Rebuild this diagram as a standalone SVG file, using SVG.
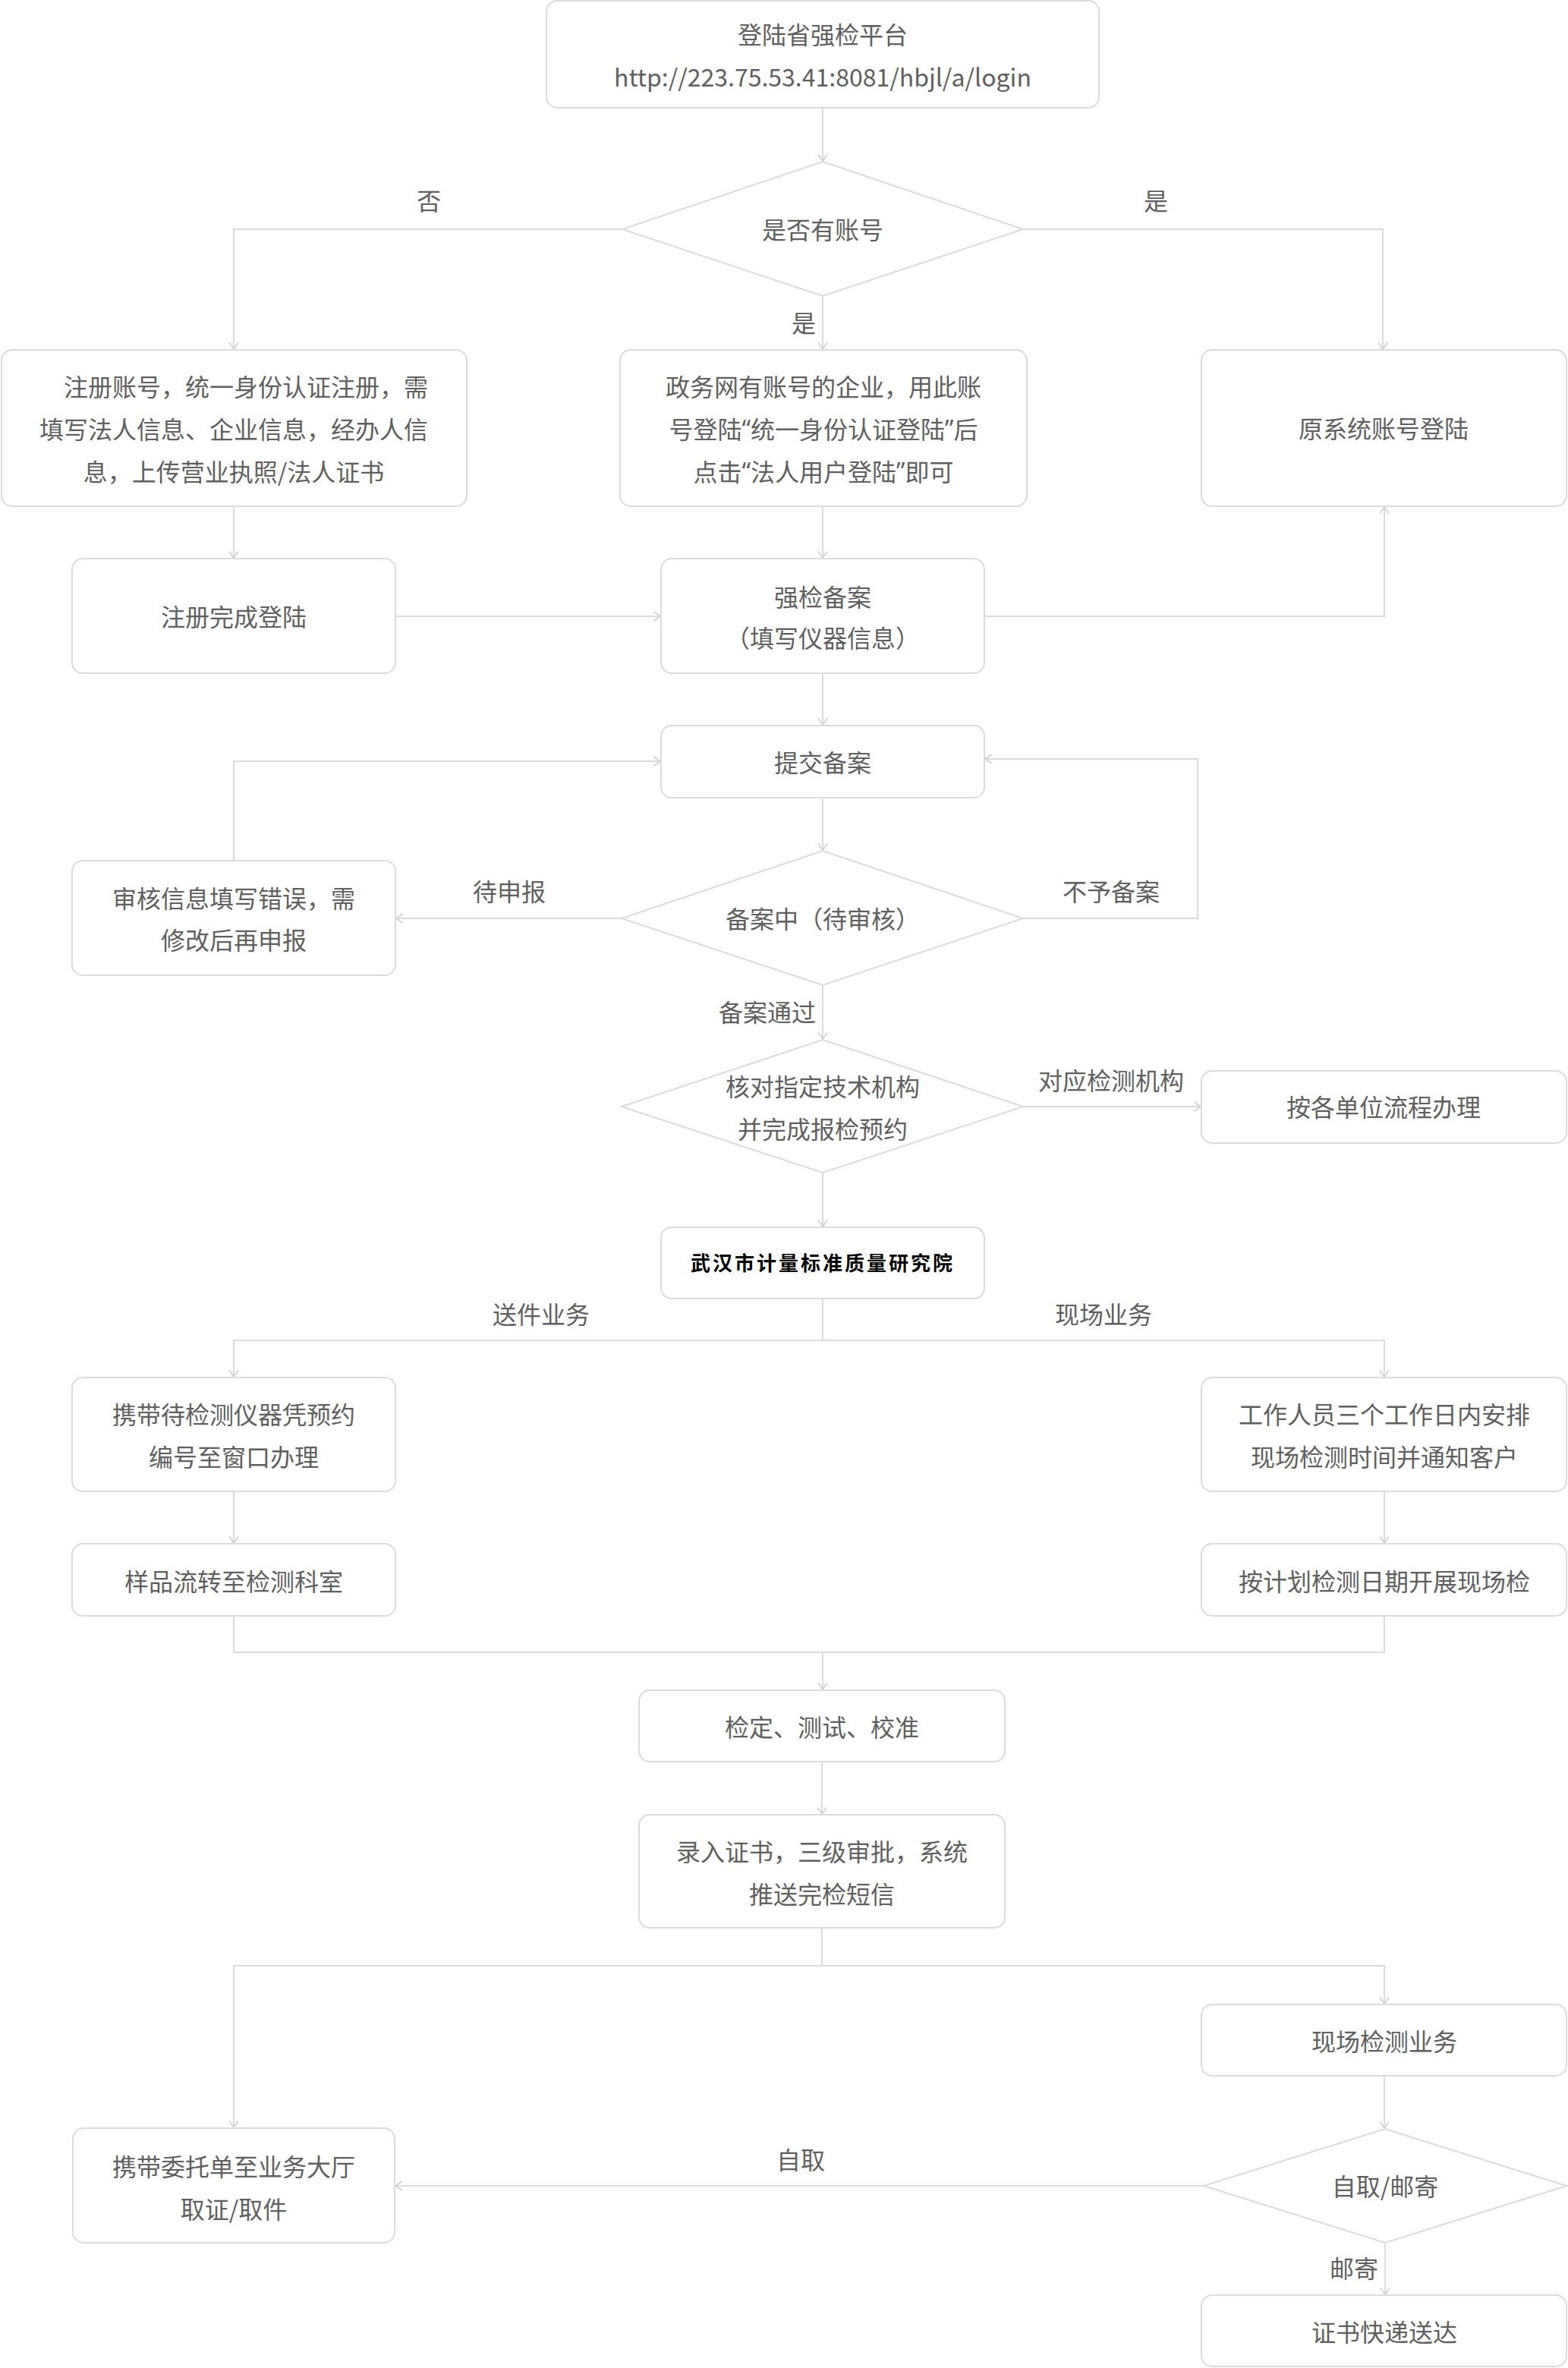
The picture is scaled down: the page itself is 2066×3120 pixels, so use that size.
<svg xmlns="http://www.w3.org/2000/svg" width="2066" height="3120" viewBox="0 0 2066 3120">
<style>
.n{fill:#fff;stroke:#dcdcdc;stroke-width:2}
.t{font-family:"Noto Sans CJK SC","Noto Sans",sans-serif;font-size:32px;fill:#5f5f5f;text-anchor:middle;dominant-baseline:central}
.q{font-family:"Noto Sans","Noto Sans CJK SC",sans-serif}
.b{font-family:"Noto Sans CJK SC","Noto Sans",sans-serif;font-size:26px;font-weight:bold;letter-spacing:3px;fill:#000;text-anchor:middle;dominant-baseline:central}
.c{fill:none;stroke:#dcdcdc;stroke-width:2}
</style>
<defs>
<marker id="a" viewBox="0 0 10 14" refX="9.5" refY="7" markerWidth="10" markerHeight="14" markerUnits="userSpaceOnUse" orient="auto">
<path d="M1,1 L9.5,7 L1,13" fill="none" stroke="#d0d0d0" stroke-width="1.6"/>
</marker>
</defs>
<rect width="2066" height="3120" fill="#fff"/>
<g id="connectors">
<path class="c" d="M1084,142 V212" marker-end="url(#a)"/>
<path class="c" d="M820,302 H308 V460" marker-end="url(#a)"/>
<path class="c" d="M1348,302 H1822 V460" marker-end="url(#a)"/>
<path class="c" d="M1084,390 V460" marker-end="url(#a)"/>
<path class="c" d="M308,667 V735" marker-end="url(#a)"/>
<path class="c" d="M1084,667 V735" marker-end="url(#a)"/>
<path class="c" d="M521,812 H870" marker-end="url(#a)"/>
<path class="c" d="M1297,812 H1824 V668" marker-end="url(#a)"/>
<path class="c" d="M1084,887 V955" marker-end="url(#a)"/>
<path class="c" d="M1084,1051 V1120" marker-end="url(#a)"/>
<path class="c" d="M819,1210 H522" marker-end="url(#a)"/>
<path class="c" d="M308,1134 V1003 H870" marker-end="url(#a)"/>
<path class="c" d="M1348,1210 H1578 V1000 H1298" marker-end="url(#a)"/>
<path class="c" d="M1084,1298 V1369" marker-end="url(#a)"/>
<path class="c" d="M1348,1458 H1582" marker-end="url(#a)"/>
<path class="c" d="M1084,1545 V1616" marker-end="url(#a)"/>
<path class="c" d="M1084,1711 V1766 H308 V1814" marker-end="url(#a)"/>
<path class="c" d="M1084,1766 H1824 V1814" marker-end="url(#a)"/>
<path class="c" d="M308,1965 V2033" marker-end="url(#a)"/>
<path class="c" d="M1824,1965 V2033" marker-end="url(#a)"/>
<path class="c" d="M308,2129 V2177 H1824 V2129"/>
<path class="c" d="M1084,2177 V2226" marker-end="url(#a)"/>
<path class="c" d="M1083,2321 V2390" marker-end="url(#a)"/>
<path class="c" d="M1083,2540 V2590 H308 V2803" marker-end="url(#a)"/>
<path class="c" d="M1083,2590 H1824 V2640" marker-end="url(#a)"/>
<path class="c" d="M1824,2735 V2804" marker-end="url(#a)"/>
<path class="c" d="M1586,2880 H521" marker-end="url(#a)"/>
<path class="c" d="M1825,2955 V3023" marker-end="url(#a)"/>
<text class="t" x="565" y="263">否</text>
<text class="t" x="1523" y="263">是</text>
<text class="t" x="1059" y="424">是</text>
<text class="t" x="671" y="1173">待申报</text>
<text class="t" x="1464" y="1173">不予备案</text>
<text class="t" x="1011" y="1332">备案通过</text>
<text class="t" x="1464" y="1422">对应检测机构</text>
<text class="t" x="713" y="1730">送件业务</text>
<text class="t" x="1454" y="1730">现场业务</text>
<text class="t" x="1055" y="2844">自取</text>
<text class="t" x="1784" y="2987">邮寄</text>
</g>
<g id="n_login">
<rect class="n" x="720" y="1" width="728" height="141" rx="14"/>
<text class="t" x="1084" y="44">登陆省强检平台</text>
<text class="t" x="1084" y="100">http://223.75.53.41:8081/hbjl/a/login</text>
</g>
<g id="n_hasaccount">
<polygon class="n" points="1084,213 1348,302 1084,390 820,302"/>
<text class="t" x="1084" y="301">是否有账号</text>
</g>
<g id="n_register">
<rect class="n" x="2" y="461" width="613" height="206" rx="14"/>
<text class="t" x="324" y="508">注册账号，统一身份认证注册，需</text>
<text class="t" x="308" y="564">填写法人信息、企业信息，经办人信</text>
<text class="t" x="308" y="620">息，上传营业执照/法人证书</text>
</g>
<g id="n_gov">
<rect class="n" x="817" y="461" width="536" height="206" rx="14"/>
<text class="t" x="1085" y="508">政务网有账号的企业，用此账</text>
<text class="t" x="1085" y="564">号登陆<tspan class="q">“</tspan>统一身份认证登陆<tspan class="q">”</tspan>后</text>
<text class="t" x="1085" y="620">点击<tspan class="q">“</tspan>法人用户登陆<tspan class="q">”</tspan>即可</text>
</g>
<g id="n_oldlogin">
<rect class="n" x="1583" y="461" width="481" height="206" rx="14"/>
<text class="t" x="1823" y="563">原系统账号登陆</text>
</g>
<g id="n_regdone">
<rect class="n" x="95" y="736" width="426" height="151" rx="14"/>
<text class="t" x="308" y="811">注册完成登陆</text>
</g>
<g id="n_filing">
<rect class="n" x="871" y="736" width="426" height="151" rx="14"/>
<text class="t" x="1084" y="785">强检备案</text>
<text class="t" x="1084" y="839">（填写仪器信息）</text>
</g>
<g id="n_submit">
<rect class="n" x="871" y="956" width="426" height="95" rx="14"/>
<text class="t" x="1084" y="1003">提交备案</text>
</g>
<g id="n_error">
<rect class="n" x="95" y="1134" width="426" height="151" rx="14"/>
<text class="t" x="308" y="1182">审核信息填写错误，需</text>
<text class="t" x="308" y="1237">修改后再申报</text>
</g>
<g id="n_review">
<polygon class="n" points="1084,1121 1348,1210 1084,1298 819,1210"/>
<text class="t" x="1084" y="1209">备案中（待审核）</text>
</g>
<g id="n_check">
<polygon class="n" points="1084,1370 1348,1458 1084,1545 819,1458"/>
<text class="t" x="1084" y="1430">核对指定技术机构</text>
<text class="t" x="1084" y="1486">并完成报检预约</text>
</g>
<g id="n_other">
<rect class="n" x="1583" y="1411" width="481" height="95" rx="14"/>
<text class="t" x="1823" y="1457">按各单位流程办理</text>
</g>
<g id="n_wuhan">
<rect class="n" x="871" y="1617" width="426" height="94" rx="14"/>
<text class="b" x="1084" y="1662">武汉市计量标准质量研究院</text>
</g>
<g id="n_carry">
<rect class="n" x="95" y="1815" width="426" height="150" rx="14"/>
<text class="t" x="308" y="1862">携带待检测仪器凭预约</text>
<text class="t" x="308" y="1918">编号至窗口办理</text>
</g>
<g id="n_staff">
<rect class="n" x="1583" y="1815" width="481" height="150" rx="14"/>
<text class="t" x="1824" y="1862">工作人员三个工作日内安排</text>
<text class="t" x="1824" y="1918">现场检测时间并通知客户</text>
</g>
<g id="n_sample">
<rect class="n" x="95" y="2034" width="426" height="95" rx="14"/>
<text class="t" x="308" y="2082">样品流转至检测科室</text>
</g>
<g id="n_plan">
<rect class="n" x="1583" y="2034" width="481" height="95" rx="14"/>
<text class="t" x="1824" y="2082">按计划检测日期开展现场检</text>
</g>
<g id="n_verify">
<rect class="n" x="842" y="2227" width="482" height="94" rx="14"/>
<text class="t" x="1083" y="2274">检定、测试、校准</text>
</g>
<g id="n_cert">
<rect class="n" x="842" y="2391" width="482" height="149" rx="14"/>
<text class="t" x="1083" y="2438">录入证书，三级审批，系统</text>
<text class="t" x="1083" y="2494">推送完检短信</text>
</g>
<g id="n_pickup">
<rect class="n" x="96" y="2804" width="424" height="151" rx="14"/>
<text class="t" x="308" y="2853">携带委托单至业务大厅</text>
<text class="t" x="308" y="2909">取证/取件</text>
</g>
<g id="n_onsite">
<rect class="n" x="1583" y="2641" width="481" height="94" rx="14"/>
<text class="t" x="1824" y="2688">现场检测业务</text>
</g>
<g id="n_choice">
<polygon class="n" points="1825,2805 2064,2880 1825,2955 1586,2880"/>
<text class="t" x="1825" y="2879">自取/邮寄</text>
</g>
<g id="n_express">
<rect class="n" x="1583" y="3024" width="481" height="94" rx="14"/>
<text class="t" x="1824" y="3071">证书快递送达</text>
</g>
</svg>
